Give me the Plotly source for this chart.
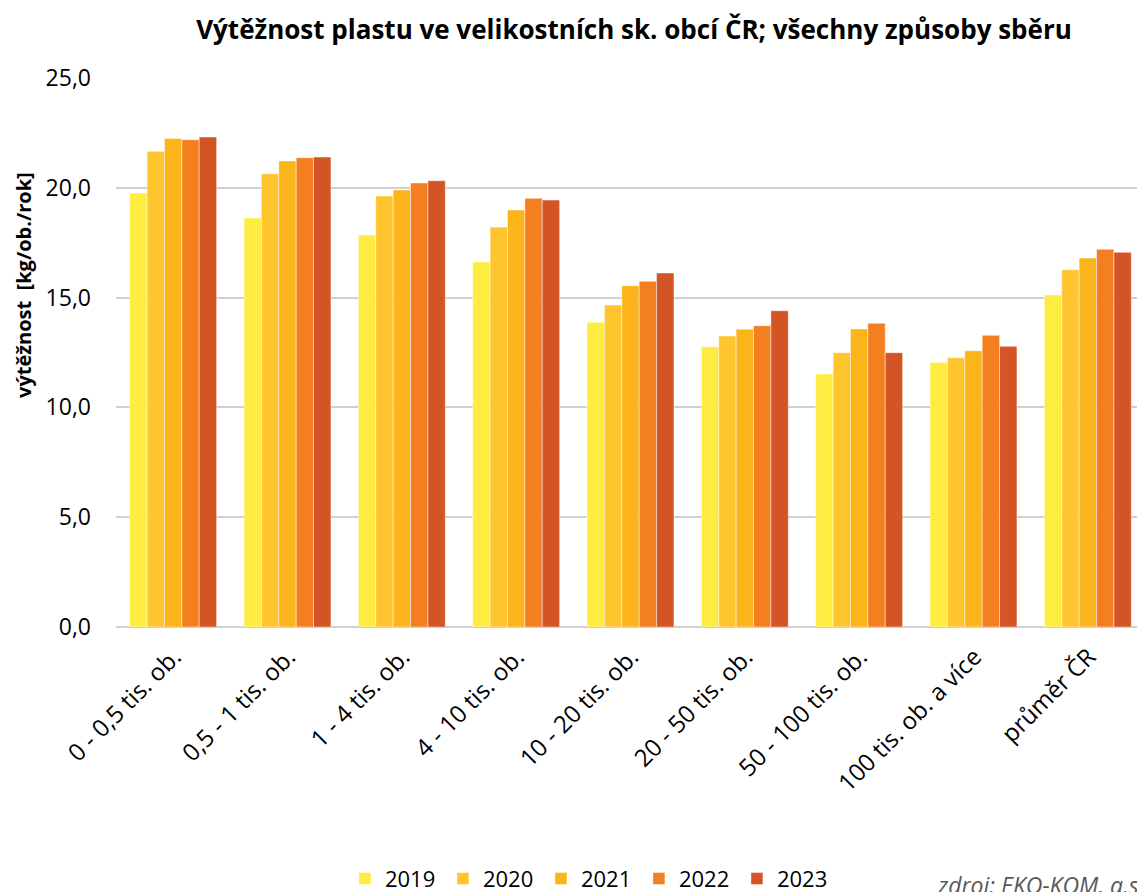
"""Výtěžnost plastu ve velikostních skupinách obcí ČR."""

import plotly.graph_objects as go

categories = [
    "0 - 0,5 tis. ob.",
    "0,5 - 1 tis. ob.",
    "1 - 4 tis. ob.",
    "4 - 10 tis. ob.",
    "10 - 20 tis. ob.",
    "20 - 50 tis. ob.",
    "50 - 100 tis. ob.",
    "100 tis. ob. a více",
    "průměr ČR",
]

years = ["2019", "2020", "2021", "2022", "2023"]

y2019 = [19.76, 18.62, 17.85, 16.62, 13.88, 12.76, 11.52, 12.05, 15.12]
y2020 = [21.66, 20.64, 19.63, 18.21, 14.66, 13.25, 12.49, 12.26, 16.27]
y2021 = [22.24, 21.22, 19.90, 18.99, 15.54, 13.56, 13.57, 12.58, 16.80]
y2022 = [22.19, 21.37, 20.22, 19.52, 15.74, 13.72, 13.83, 13.28, 17.20]
y2023 = [22.31, 21.40, 20.32, 19.44, 16.12, 14.40, 12.49, 12.78, 17.06]

colors = ["#FFEC40", "#FEC52F", "#FBB41A", "#F47F20", "#D35424"]

FONT = "Open Sans"

# the page body has an 8px margin, so the figure is 8px smaller than the window
W, H = 1137, 884

fig = go.Figure()
for year, vals, col in zip(years, [y2019, y2020, y2021, y2022, y2023], colors):
    fig.add_trace(go.Bar(
        name=year, x=categories, y=vals,
        marker=dict(color=col, line=dict(color="rgba(255,255,255,0.45)", width=1)),
    ))

fig.update_layout(
    width=W, height=H,
    margin=dict(l=108, r=0, t=70, b=265, autoexpand=False),
    paper_bgcolor="white", plot_bgcolor="white",
    barmode="group", bargap=0.24, bargroupgap=0,
    separators=", ",
    font=dict(family=FONT, color="#000000"),
    title=dict(
        text="<b>Výtěžnost plastu ve velikostních sk. obcí ČR; všechny způsoby sběru</b>",
        xref="container", yref="container",
        x=626 / W, xanchor="center", y=1 - 22 / H, yanchor="middle",
        font=dict(size=26, family=FONT),
    ),
    legend=dict(
        orientation="h", x=0.2225, xanchor="left", y=-0.4586, yanchor="middle",
        font=dict(size=22), itemwidth=30, entrywidth=53,
    ),
    showlegend=True,
)

fig.update_yaxes(
    range=[0, 25], dtick=5, tickformat=".1f",
    showgrid=True, gridcolor="#D0D0D0", gridwidth=1.5,
    zeroline=True, zerolinecolor="#D0D0D0", zerolinewidth=1.5,
    showline=False, ticks="", ticklabelstandoff=24,
    tickfont=dict(size=23),
)
fig.update_xaxes(
    tickangle=-45, tickfont=dict(size=24), showline=False, ticks="",
    ticklabelstandoff=10, ticklabelshift=1,
)

fig.add_annotation(
    text="<b>výtěžnost  [kg/ob./rok]</b>", textangle=-90,
    xref="paper", yref="paper", x=(16 - 108) / 1029, y=0.623,
    xanchor="center", yanchor="middle", showarrow=False,
    font=dict(size=20, family=FONT),
)
fig.add_annotation(
    text="<i>zdroj: EKO-KOM, a.s.</i>",
    xref="paper", yref="paper", x=0.796, y=-0.437,
    xanchor="left", yanchor="top", showarrow=False,
    font=dict(size=23, family=FONT, color="#595959"),
)

fig.write_html("out.html")
